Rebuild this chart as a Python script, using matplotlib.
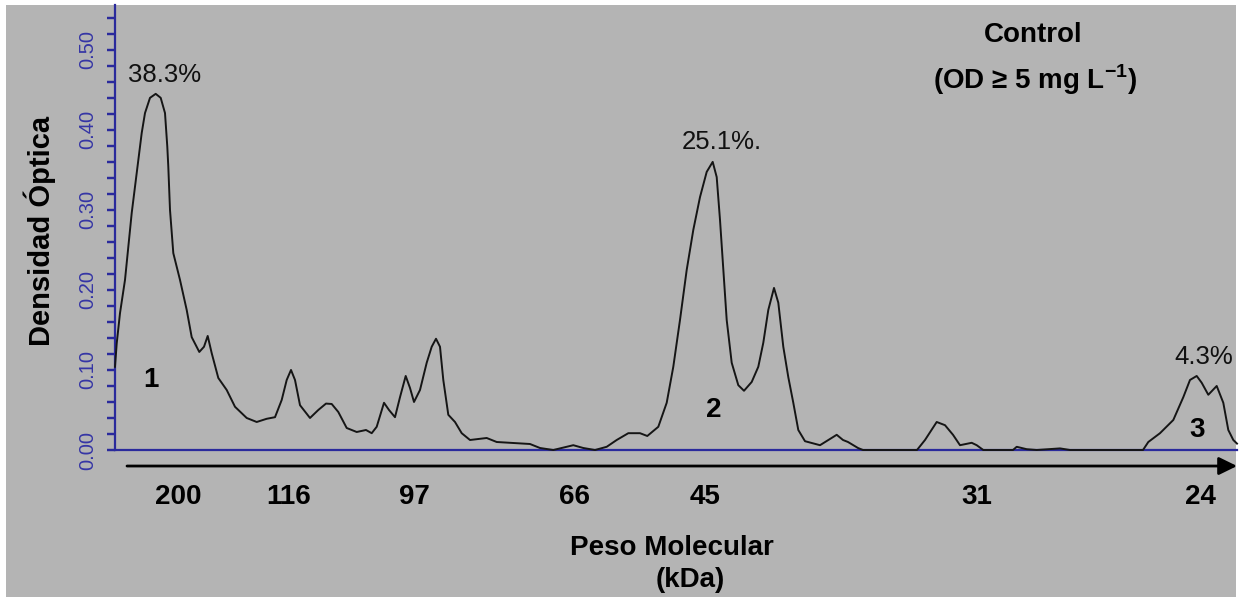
import matplotlib
matplotlib.use("Agg")
import matplotlib.pyplot as plt
from matplotlib.patches import Rectangle
from matplotlib.patches import ArrowStyle

plt.rcParams['font.family'] = ['Liberation Sans', 'DejaVu Sans']
plt.rcParams['mathtext.fontset'] = 'custom'
plt.rcParams['mathtext.rm'] = 'Liberation Sans'
plt.rcParams['mathtext.bf'] = 'Liberation Sans:bold'

# Densitometry scan: position along the lane (scan units) vs optical density
position = [0, 1.7, 5, 10, 13.3, 16.7, 20, 23.3, 26.7, 30, 35, 40.7, 45.7, 50, 52.3, 53.3,
            55, 58.3, 65, 71.7, 76.7, 84.3, 89, 92.7, 96.7, 103.3, 111.7, 120, 131.7,
            141.7, 151.7, 160, 166.7, 171.7, 176, 180, 185, 195, 203.3, 211, 216.7,
            223.3, 231.7, 241.7, 251, 256.7, 261.7, 269, 274, 280, 285, 290.7, 295,
            299, 305, 311.7, 316.7, 321, 325, 328.3, 333.3, 340, 346.7, 355, 371.7,
            381.7, 395, 415, 425, 438.3, 458.3, 468.3, 480, 491.7, 501.7, 513.3, 525,
            532.3, 543.3, 551.7, 558.3, 565, 571.7, 578.3, 585, 591.7, 597.7, 601.7,
            605, 608.3, 611.7, 616.7, 623.3, 629, 636.7, 643.3, 648.3, 653.3, 659,
            663.3, 668.3, 673.3, 678.3, 683.3, 690, 705, 713.3, 721.7, 728, 733, 743,
            748, 772, 802, 810, 821.7, 830, 838, 845, 856.7, 861.7, 868.3, 898, 901.7,
            911.7, 921.7, 945, 955, 971.7, 1028, 1033.3, 1045, 1058.3, 1068.3, 1075,
            1081.7, 1086.7, 1093.3, 1101.7, 1108.3, 1113.3, 1118.3, 1122]
density = [0.104, 0.133, 0.171, 0.2125, 0.254, 0.296, 0.329, 0.3625, 0.396, 0.421, 0.44,
           0.445, 0.44, 0.421, 0.379, 0.354, 0.30, 0.246, 0.2125, 0.175, 0.141, 0.1225,
           0.129, 0.1425, 0.121, 0.09, 0.075, 0.054, 0.04, 0.035, 0.039, 0.041, 0.0625,
           0.0875, 0.10, 0.0875, 0.056, 0.04, 0.05, 0.058, 0.0575, 0.0475, 0.0275,
           0.0225, 0.025, 0.021, 0.029, 0.059, 0.05, 0.041, 0.066, 0.0925, 0.0775,
           0.06, 0.075, 0.109, 0.129, 0.139, 0.129, 0.0875, 0.044, 0.035, 0.021, 0.0125,
           0.015, 0.01, 0.009, 0.0075, 0.0025, 0.0, 0.006, 0.0025, 0.0, 0.004, 0.0125,
           0.021, 0.021, 0.0175, 0.029, 0.059, 0.104, 0.1625, 0.225, 0.275, 0.316,
           0.3475, 0.36, 0.341, 0.2875, 0.225, 0.1625, 0.109, 0.081, 0.074, 0.085,
           0.104, 0.134, 0.175, 0.2025, 0.184, 0.129, 0.091, 0.059, 0.025, 0.011, 0.006,
           0.0125, 0.019, 0.0125, 0.01, 0.0025, 0.0, 0.0, 0.0, 0.0125, 0.035, 0.031,
           0.019, 0.006, 0.009, 0.006, 0.0, 0.0, 0.004, 0.001, 0.0, 0.002, 0.0, 0.0,
           0.0, 0.01, 0.021, 0.0375, 0.066, 0.0875, 0.0925, 0.084, 0.069, 0.08, 0.059,
           0.025, 0.0125, 0.008]

# Molecular weight markers (kDa) and their scan positions
marker_positions = [63, 174, 299, 459, 590, 862, 1085]
marker_labels = ['200', '116', '97', '66', '45', '31', '24']

# Y axis ticks
od_ticks = [0.0, 0.1, 0.2, 0.3, 0.4, 0.5]
od_tick_labels = ['0.00', '0.10', '0.20', '0.30', '0.40', '0.50']
od_minor_step = 0.02

# Peak annotations
peak_pct_x = [50, 607, 1089]
peak_pct_y = [0.469, 0.385, 0.1166]
peak_pct_labels = ['38.3%', '25.1%.', '4.3%']
peak_num_x = [35.7, 599, 1081.7]
peak_num_y = [0.0875, 0.05, 0.025]
peak_num_labels = ['1', '2', '3']

BLUE = '#2a2a9c'
TICKBLUE = '#3535a5'
GRAY = '#b4b4b4'
W, H = 1243, 600

fig = plt.figure(figsize=(W / 100, H / 100), dpi=100, facecolor='white')
bg = Rectangle((6 / W, 3 / H), (1236 - 6) / W, (595 - 3) / H,
               transform=fig.transFigure, facecolor=GRAY, edgecolor='none', zorder=-10)
fig.patches.append(bg)

ax = fig.add_axes([115 / W, 150 / H, 1122 / W, 445 / H])
ax.set_zorder(5)
ax.set_facecolor('none')
ax.plot(position, density, color='#151515', lw=1.4, zorder=3, clip_on=False)

ax.set_xlim(0, 1122)
ax.set_ylim(0, 0.556)

for s in ['top', 'right']:
    ax.spines[s].set_visible(False)
for s in ['left', 'bottom']:
    ax.spines[s].set_color(BLUE)
    ax.spines[s].set_linewidth(1.6)

minor_ticks = [i * od_minor_step for i in range(28)]
ax.set_yticks(od_ticks)
ax.set_yticklabels(od_tick_labels)
ax.set_yticks(minor_ticks, minor=True)
ax.yaxis.set_tick_params(which='major', left=True, direction='out', length=6,
                         width=1.6, color=BLUE, labelcolor=TICKBLUE, labelsize=14.5,
                         pad=7, labelrotation=90)
ax.yaxis.set_tick_params(which='minor', left=True, direction='out', length=6,
                         width=1.6, color=BLUE)
for lab in ax.get_yticklabels():
    lab.set_va('center')

# tick marks also drawn as short segments on the y-axis transform
ax.hlines(minor_ticks, -0.0068, 0, transform=ax.get_yaxis_transform(),
          colors=BLUE, linewidth=1.6, clip_on=False, zorder=4)

ax.set_xticks(marker_positions)
ax.set_xticklabels(marker_labels, fontsize=20, fontweight='bold')
ax.tick_params(axis='x', length=0, pad=34)
for lab in ax.get_xticklabels():
    lab.set_va('center')

ax.set_ylabel('Densidad Óptica', fontsize=21, fontweight='bold')
ax.yaxis.set_label_coords(-0.0668, 0.492)
ax.yaxis.label.set_va('center')

ax.set_xlabel('Peso Molecular', fontsize=20, fontweight='bold')
ax.xaxis.set_label_coords(0.4964, -0.220)
ax.xaxis.label.set_va('center')
ax.text(0.5125, -0.292, '(kDa)', transform=ax.transAxes, fontsize=20,
        fontweight='bold', ha='center', va='center')

# migration arrow
ax.annotate('', xy=(1.0, -0.036), xytext=(0.0107, -0.036),
            xycoords='axes fraction', textcoords='axes fraction',
            arrowprops=dict(arrowstyle=ArrowStyle('-|>', head_length=11, head_width=5.4),
                            mutation_scale=1, color='black', lw=2.0,
                            shrinkA=0, shrinkB=0),
            annotation_clip=False)

for x, y, t in zip(peak_pct_x, peak_pct_y, peak_pct_labels):
    ax.text(x, y, t, fontsize=18.5, ha='center', va='center', color='#111111')
for x, y, t in zip(peak_num_x, peak_num_y, peak_num_labels):
    ax.text(x, y, t, fontsize=20, fontweight='bold', ha='center', va='center')

ax.text(918, 0.519, 'Control', fontsize=20, fontweight='bold', ha='center', va='center')
ax.text(920, 0.4625, r'(OD ≥ 5 mg L$^{\mathbf{-1}}$)', fontsize=20, fontweight='bold',
        ha='center', va='center')

fig.savefig('out.png', dpi=100, facecolor='white')
